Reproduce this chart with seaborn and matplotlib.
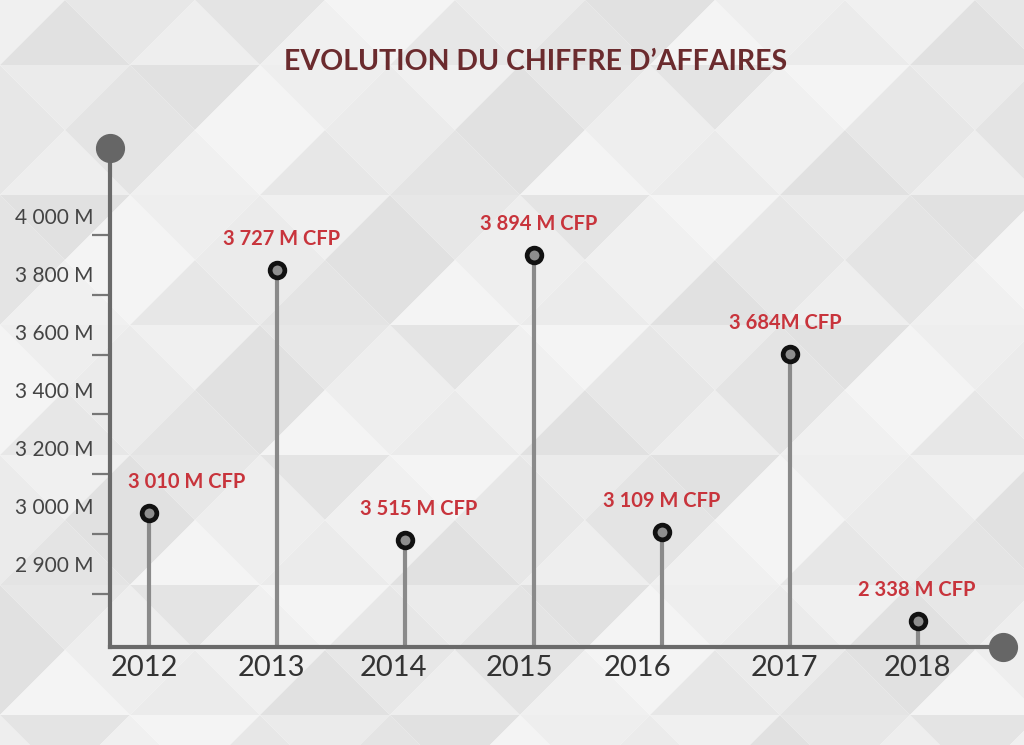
import numpy as np
import pandas as pd
import matplotlib.pyplot as plt
import matplotlib.transforms as mtransforms
import seaborn as sns

# data
years = ["2012", "2013", "2014", "2015", "2016", "2017", "2018"]
# stem heights in axis "rungs" (rung 1 = lowest tick mark, rung 7 = highest)
stem_level = [2.35, 6.42, 1.90, 6.67, 2.04, 5.01, 0.55]
value_labels = ["3 010 M CFP", "3 727 M CFP", "3 515 M CFP", "3 894 M CFP",
                "3 109 M CFP", "3 684M CFP", "2 338 M CFP"]
ytick_labels = ["2 900 M", "3 000 M", "3 200 M", "3 400 M", "3 600 M", "3 800 M", "4 000 M"]
title = "EVOLUTION DU CHIFFRE D’AFFAIRES"

sns.set_theme(style="white")
plt.rcParams["font.family"] = ["Lato", "DejaVu Sans"]

W, H = 1024, 745
fig = plt.figure(figsize=(W / 100, H / 100), dpi=100)

# low-poly grey background
bg = fig.add_axes([0, 0, 1, 1], zorder=0)
bg.set_xlim(0, W)
bg.set_ylim(H, 0)
bg.axis("off")
greys = ["#ebebeb", "#e4e4e4", "#f0f0f0", "#e1e1e1", "#f4f4f4", "#e7e7e7", "#eeeeee"]
tw, th = 130, 65
for r in range(H // th + 2):
    y0, y1 = r * th, (r + 1) * th
    off = (r % 2) * tw / 2 - tw
    for i in range(W // tw + 3):
        x = off + i * tw
        bg.fill([x, x + tw, x + tw / 2], [y1, y1, y0],
                color=greys[(3 * i + 5 * r) % 7], lw=0)
        bg.fill([x + tw / 2, x + 1.5 * tw, x + tw], [y0, y0, y1],
                color=greys[(3 * i + 5 * r + 2) % 7], lw=0)

# main axes: spans from the y axis line to the right end circle
ax = fig.add_axes([110 / W, 1 - 647 / H, 893 / W, 499 / H], zorder=1)
ax.set_facecolor("none")
ax.set_xlim(-0.304, 6.66)
ylo, yhi = 0.114, 8.45
ax.set_ylim(ylo, yhi)

df = pd.DataFrame({"x": np.arange(len(years)), "level": stem_level})

ax.vlines(df["x"], ylo, df["level"], color="#8a8a8a", lw=3, zorder=2)
sns.scatterplot(data=df, x="x", y="level", s=112, color="#8e8e8e",
                edgecolor="#111111", linewidth=3.4, ax=ax, zorder=3, clip_on=False)

label_dx = [38, 4, 13, 5, 0, -5, -2]  # px offsets of the value labels
for x, lvl, lbl, dx in zip(df["x"], df["level"], value_labels, label_dx):
    ax.annotate(lbl, (x, lvl), xytext=(dx * 0.72, 31 * 0.72), textcoords="offset points",
                ha="center", va="center", color="#c8343c", fontsize=14.5, fontweight="bold")

# spines + end circles
sns.despine(ax=ax)
for s in ["left", "bottom"]:
    ax.spines[s].set_linewidth(3)
    ax.spines[s].set_color("#6a6a6a")
ax.plot([0], [1], "o", ms=20, color="#666666", transform=ax.transAxes, clip_on=False, zorder=4)
ax.plot([1], [0], "o", ms=20, color="#666666", transform=ax.transAxes, clip_on=False, zorder=4)

# ticks
ax.set_xticks(df["x"], years)
ax.tick_params(axis="x", length=0, pad=6, labelsize=21, labelcolor="#333333")
year_dx = [-4.5, -5.5, -12, -14, -24, -6, -1]  # year labels are not centred on the stems
for lab, dx in zip(ax.get_xticklabels(), year_dx):
    lab.set_transform(lab.get_transform() + mtransforms.ScaledTranslation(dx / 100, 0, fig.dpi_scale_trans))
ax.set_yticks(np.arange(1, 8), minor=True)
ax.set_yticks(1.5 + 0.97 * np.arange(7), ytick_labels)
ax.tick_params(axis="y", which="major", length=0, pad=12, labelsize=15, labelcolor="#444444")
ax.tick_params(axis="y", which="minor", left=True, length=13, width=1.6, color="#777777")
ax.set_xlabel("")
ax.set_ylabel("")

fig.text(536 / W, 1 - 62 / H, title, ha="center", va="center",
         fontsize=20.5, fontweight="bold", color="#6b2b2e")

fig.savefig("out.png", dpi=100)
